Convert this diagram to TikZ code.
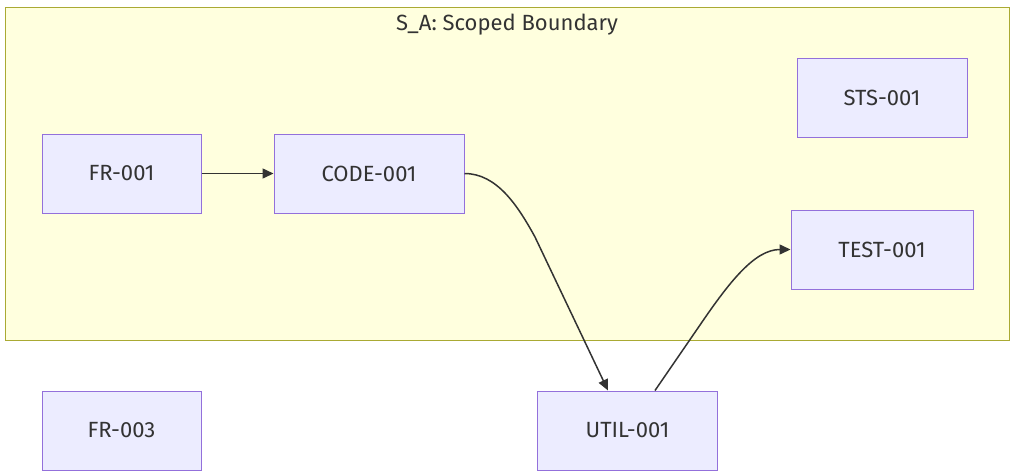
\documentclass[tikz,border=0pt]{standalone}
\usepackage{fontspec}
\setmainfont{Fira Sans}
\usetikzlibrary{arrows.meta}
\definecolor{nodefill}{HTML}{ECECFF}
\definecolor{nodeline}{HTML}{9370DB}
\definecolor{clusterfill}{HTML}{FFFFDE}
\definecolor{clusterline}{HTML}{AAAA33}
\definecolor{ink}{HTML}{333333}
\tikzset{
  label/.style={text=ink, font=\fontsize{22}{26}\selectfont},
  box/.style={label, draw=nodeline, fill=nodefill, line width=1pt,
    inner sep=0pt, anchor=center, minimum height=79pt},
  link/.style={draw=ink, line width=1.5pt,
    -{Triangle[length=11pt,width=10pt]}}
}
\begin{document}
\begin{tikzpicture}[x=1pt,y=-1pt]
  \useasboundingbox (0,0) rectangle (1010,475);
  % scoped boundary cluster
  \draw[fill=clusterfill, draw=clusterline, line width=1pt] (5,7) rectangle (1009,340);
  \node[label] (title) at (507,25) {S\_A: Scoped Boundary};
  % nodes
  \node[box, minimum width=159pt] (fr1) at (121.5,173.5) {FR-001};
  \node[box, minimum width=190pt] (code) at (369,173.5) {CODE-001};
  \node[box, minimum width=170pt] (sts) at (882,97.5) {STS-001};
  \node[box, minimum width=182pt] (test) at (882,249.5) {TEST-001};
  \node[box, minimum width=159pt] (fr3) at (121.5,430.5) {FR-003};
  \node[box, minimum width=180pt] (util) at (627.5,430.5) {UTIL-001};
  % connectors
  \draw[link] (fr1.east) -- (code.west);
  \draw[link] (code.east) .. controls (497,173.5) and (518,206) .. (535,237)
    -- (util.north -| 608,0);
  \draw[link] (util.north -| 655,0) -- (700,325) .. controls (730,281) and (755,249.5) .. (test.west);
\end{tikzpicture}
\end{document}
